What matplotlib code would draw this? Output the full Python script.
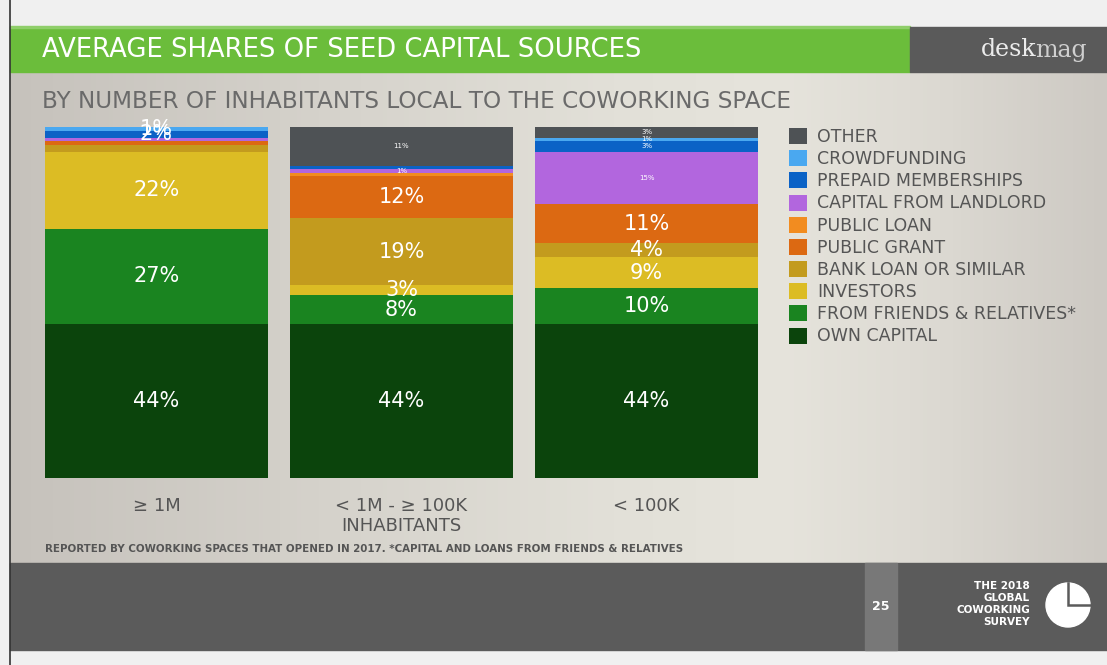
import numpy as np
import matplotlib
matplotlib.use('Agg')
import matplotlib.pyplot as plt
from matplotlib.patches import Rectangle, Circle
from matplotlib.colors import LinearSegmentedColormap

W, H = 1107, 665

#
# data: average share (%) of each seed capital source per city size
#
CATEGORIES = ['\u2265 1M', '< 1M - \u2265 100K\nINHABITANTS', '< 100K']
SOURCES = ['OWN CAPITAL', 'FROM FRIENDS & RELATIVES*', 'INVESTORS',
           'BANK LOAN OR SIMILAR', 'PUBLIC GRANT', 'PUBLIC LOAN',
           'CAPITAL FROM LANDLORD', 'PREPAID MEMBERSHIPS', 'CROWDFUNDING',
           'OTHER']
own_capital = [44, 44, 44]
friends = [27, 8, 10]
investors = [22, 3, 9]
bank_loan = [2, 19, 4]
public_grant = [1, 12, 11]
public_loan = [0, 1, 0]
landlord = [1, 1, 15]
prepaid = [2, 1, 3]
crowdfunding = [1, 0, 1]
other = [0, 11, 3]
SHARES = [own_capital, friends, investors, bank_loan, public_grant,
          public_loan, landlord, prepaid, crowdfunding, other]

COLORS = ['#0b440c', '#1a8420', '#dcbc24', '#c39b1e', '#dc6912',
          '#f28c20', '#b266de', '#0b62c6', '#4aa8f0', '#4e5255']

# labels drawn small / not drawn, as in the original slide
SMALL = {(1, 6), (1, 9), (2, 6), (2, 7), (2, 8), (2, 9)}
HIDDEN = {(0, 3), (0, 4), (0, 6), (1, 5), (1, 7)}

fig = plt.figure(figsize=(W / 100, H / 100), dpi=100)
fig.patch.set_facecolor('#f0f0f0')

#
# slide background drawn in pixel coordinates
#
bg = fig.add_axes([0, 0, 1, 1])
bg.set_xlim(0, W)
bg.set_ylim(H, 0)
bg.axis('off')
grad = LinearSegmentedColormap.from_list(
    'bg', [(0.0, '#c6c2bc'), (0.3, '#d6d3cc'), (0.55, '#e2e0d8'),
           (0.7, '#e6e4dc'), (0.85, '#dcd9d2'), (1.0, '#cdc9c3')])
bg.imshow(np.linspace(0, 1, 256)[None, :], cmap=grad, aspect='auto',
          extent=[10, W, 563, 72], zorder=0)
bg.add_patch(Rectangle((10, 27), 900, 45, color='#6bbd3b', zorder=1))
bg.add_patch(Rectangle((10, 26), 900, 2, color='#8fce6a', zorder=1))
bg.add_patch(Rectangle((910, 27), W - 910, 45, color='#5a5a5a', zorder=1))
bg.add_patch(Rectangle((10, 563), W - 10, 87, color='#5b5b5b', zorder=1))
bg.add_patch(Rectangle((865, 563), 32, 87, color='#787878', zorder=1))
bg.plot([10, 10], [0, H], color='#333333', lw=1.2, zorder=2)

bg.text(42, 50, 'AVERAGE SHARES OF SEED CAPITAL SOURCES', color='white',
        fontsize=18.6, va='center', ha='left', zorder=3)
# deskmag logo: "desk" then "mag" right after it
t_desk = bg.text(981, 50, 'desk', color='#ececec', fontsize=17,
                 family=['DejaVu Serif'], va='center', ha='left', zorder=3)
fig.canvas.draw()
ext = t_desk.get_window_extent(renderer=fig.canvas.get_renderer())
bg.text(ext.x1 - 2, 50, 'mag', color='#cfcfcf', fontsize=17,
        family=['DejaVu Serif'], va='center', ha='left', zorder=3)
bg.text(42, 101, 'BY NUMBER OF INHABITANTS LOCAL TO THE COWORKING SPACE',
        color='#6a6a6a', fontsize=16.7, va='center', ha='left', zorder=3)
bg.text(45, 549, 'REPORTED BY COWORKING SPACES THAT OPENED IN 2017. '
        '*CAPITAL AND LOANS FROM FRIENDS & RELATIVES', color='#555555',
        fontsize=7.4, fontweight='bold', va='center', ha='left', zorder=3)
bg.text(881, 606, '25', color='white', fontsize=9, fontweight='bold',
        va='center', ha='center', zorder=3)
bg.text(1030, 604, 'THE 2018\nGLOBAL\nCOWORKING\nSURVEY', color='white',
        fontsize=7.5, fontweight='bold', va='center', ha='right',
        multialignment='right', linespacing=1.25, zorder=3)
# survey pie icon
bg.add_patch(Circle((1068, 605), 22, color='white', zorder=3))
bg.plot([1068, 1068, 1090], [583, 605, 605], color='#5b5b5b', lw=1.8,
        solid_joinstyle='miter', zorder=4)

#
# stacked bars
#
ax = fig.add_axes([45 / W, (H - 478) / H, (758 - 45) / W, 351 / H])
ax.patch.set_alpha(0)
x = np.arange(len(CATEGORIES))
bottom = np.zeros(len(CATEGORIES))
handles = []
for j, (vals, col) in enumerate(zip(SHARES, COLORS)):
    vals = np.array(vals, dtype=float)
    bars = ax.bar(x, vals, 0.91, bottom=bottom, color=col, linewidth=0)
    handles.append(bars)
    for i, v in enumerate(vals):
        if v <= 0 or (i, j) in HIDDEN:
            continue
        small = (i, j) in SMALL
        ax.text(x[i], bottom[i] + v / 2, '{0:d}%'.format(int(v)),
                color='white', ha='center', va='center',
                fontsize=5 if small else 15)
    bottom += vals
ax.set_xlim(-0.455, 2.455)
ax.set_ylim(0, 100)
ax.set_xticks(x)
ax.set_xticklabels(CATEGORIES, fontsize=13, color='#555555',
                   linespacing=1.1, va='top')
ax.tick_params(axis='x', length=0, pad=14)
ax.set_yticks([])
for s in ax.spines.values():
    s.set_visible(False)

fig.legend(handles[::-1], SOURCES[::-1], loc='upper left',
           bbox_to_anchor=(789 / W, 1 - 128 / H), frameon=False,
           fontsize=12.5, labelcolor='#555555', handlelength=1.05,
           handleheight=1.05, handletextpad=0.55, labelspacing=0.24,
           borderpad=0, borderaxespad=0)

fig.savefig('out.png', dpi=100, facecolor=fig.get_facecolor())
